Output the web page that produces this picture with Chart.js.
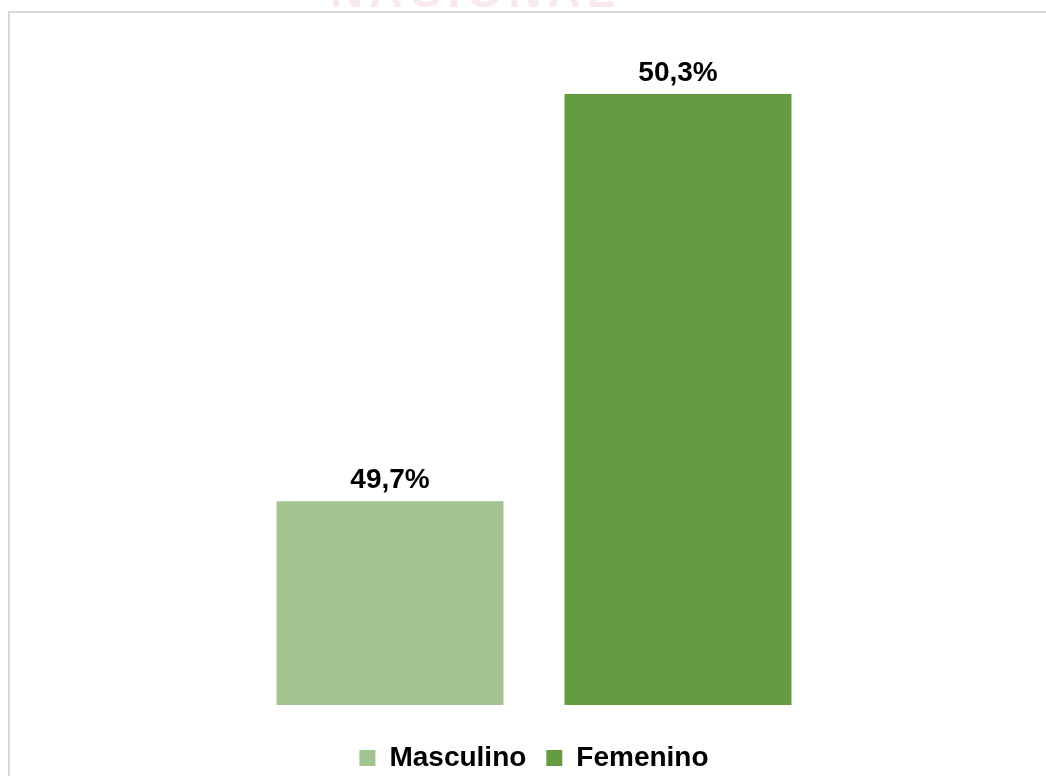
<!DOCTYPE html>
<html>
<head>
<meta charset="utf-8">
<script src="https://cdn.jsdelivr.net/npm/chart.js@4/dist/chart.umd.min.js"></script>
<style>
  body { margin: 0; background: #fff; overflow: hidden; }
  #wrap { position: relative; width: 1046px; height: 776px; overflow: hidden; }
  #mark { position: absolute; left: 330px; top: -36px; font: bold 46px "Liberation Sans", Arial, sans-serif;
          color: rgba(214, 120, 140, 0.18); letter-spacing: 6px; }
  #frame { position: absolute; left: 8px; top: 11px; width: 1100px; height: 800px;
           border: 2px solid #d9d9d9; background: #fff; }
  #myChart { position: absolute; left: 0; top: 0; }
</style>
</head>
<body>
<div id="wrap">
  <div id="mark">NACIONAL</div>
  <div id="frame"></div>
  <canvas id="myChart" width="1046" height="776"></canvas>
</div>
<script>
const categories = ['Masculino', 'Femenino']
const values = [49.7, 50.3]
const valueLabels = ['49,7%', '50,3%']
const barColors = ['#a3c391', '#659c41']
const yMin = 49.4
const yMax = 50.4

const fontFamily = '"Liberation Sans", Arial, sans-serif'

// one dataset per category so the legend lists both
var datasets = []
for (var i = 0; i < categories.length; i++) {
    datasets.push({
        label: categories[i],
        data: categories.map((c, j) => j === i ? values[i] : null),
        backgroundColor: barColors[i],
        grouped: false,
        barPercentage: 0.788,
        categoryPercentage: 1
    })
}

const barLabels = {
    id: 'barLabels',
    afterDatasetsDraw(chart) {
        var ctx = chart.ctx
        ctx.save()
        ctx.font = 'bold 28px ' + fontFamily
        ctx.fillStyle = '#000'
        ctx.textAlign = 'center'
        ctx.textBaseline = 'alphabetic'
        chart.data.datasets.forEach((ds, i) => {
            var meta = chart.getDatasetMeta(i)
            meta.data.forEach((bar, j) => {
                if (ds.data[j] == null) return
                ctx.fillText(valueLabels[j], bar.x, bar.y - 13)
            })
        })
        ctx.restore()
    }
}

var ctx = document.getElementById('myChart')
new Chart(ctx, {
    type: 'bar',
    data: { labels: categories, datasets: datasets },
    plugins: [barLabels],
    options: {
        responsive: false,
        animation: false,
        devicePixelRatio: 1,
        layout: { padding: { left: 246, right: 224, top: 26, bottom: -6 } },
        scales: {
            x: {
                display: true,
                grid: { display: false },
                border: { display: false },
                ticks: { display: false },
                afterFit: (scale) => { scale.height = 19 }
            },
            y: { display: false, min: yMin, max: yMax }
        },
        plugins: {
            tooltip: { enabled: false },
            legend: {
                position: 'bottom',
                labels: {
                    color: '#000',
                    font: { family: fontFamily, size: 28, weight: 'bold' },
                    boxWidth: 16,
                    boxHeight: 16,
                    padding: 20
                }
            }
        }
    }
})
</script>
</body>
</html>
